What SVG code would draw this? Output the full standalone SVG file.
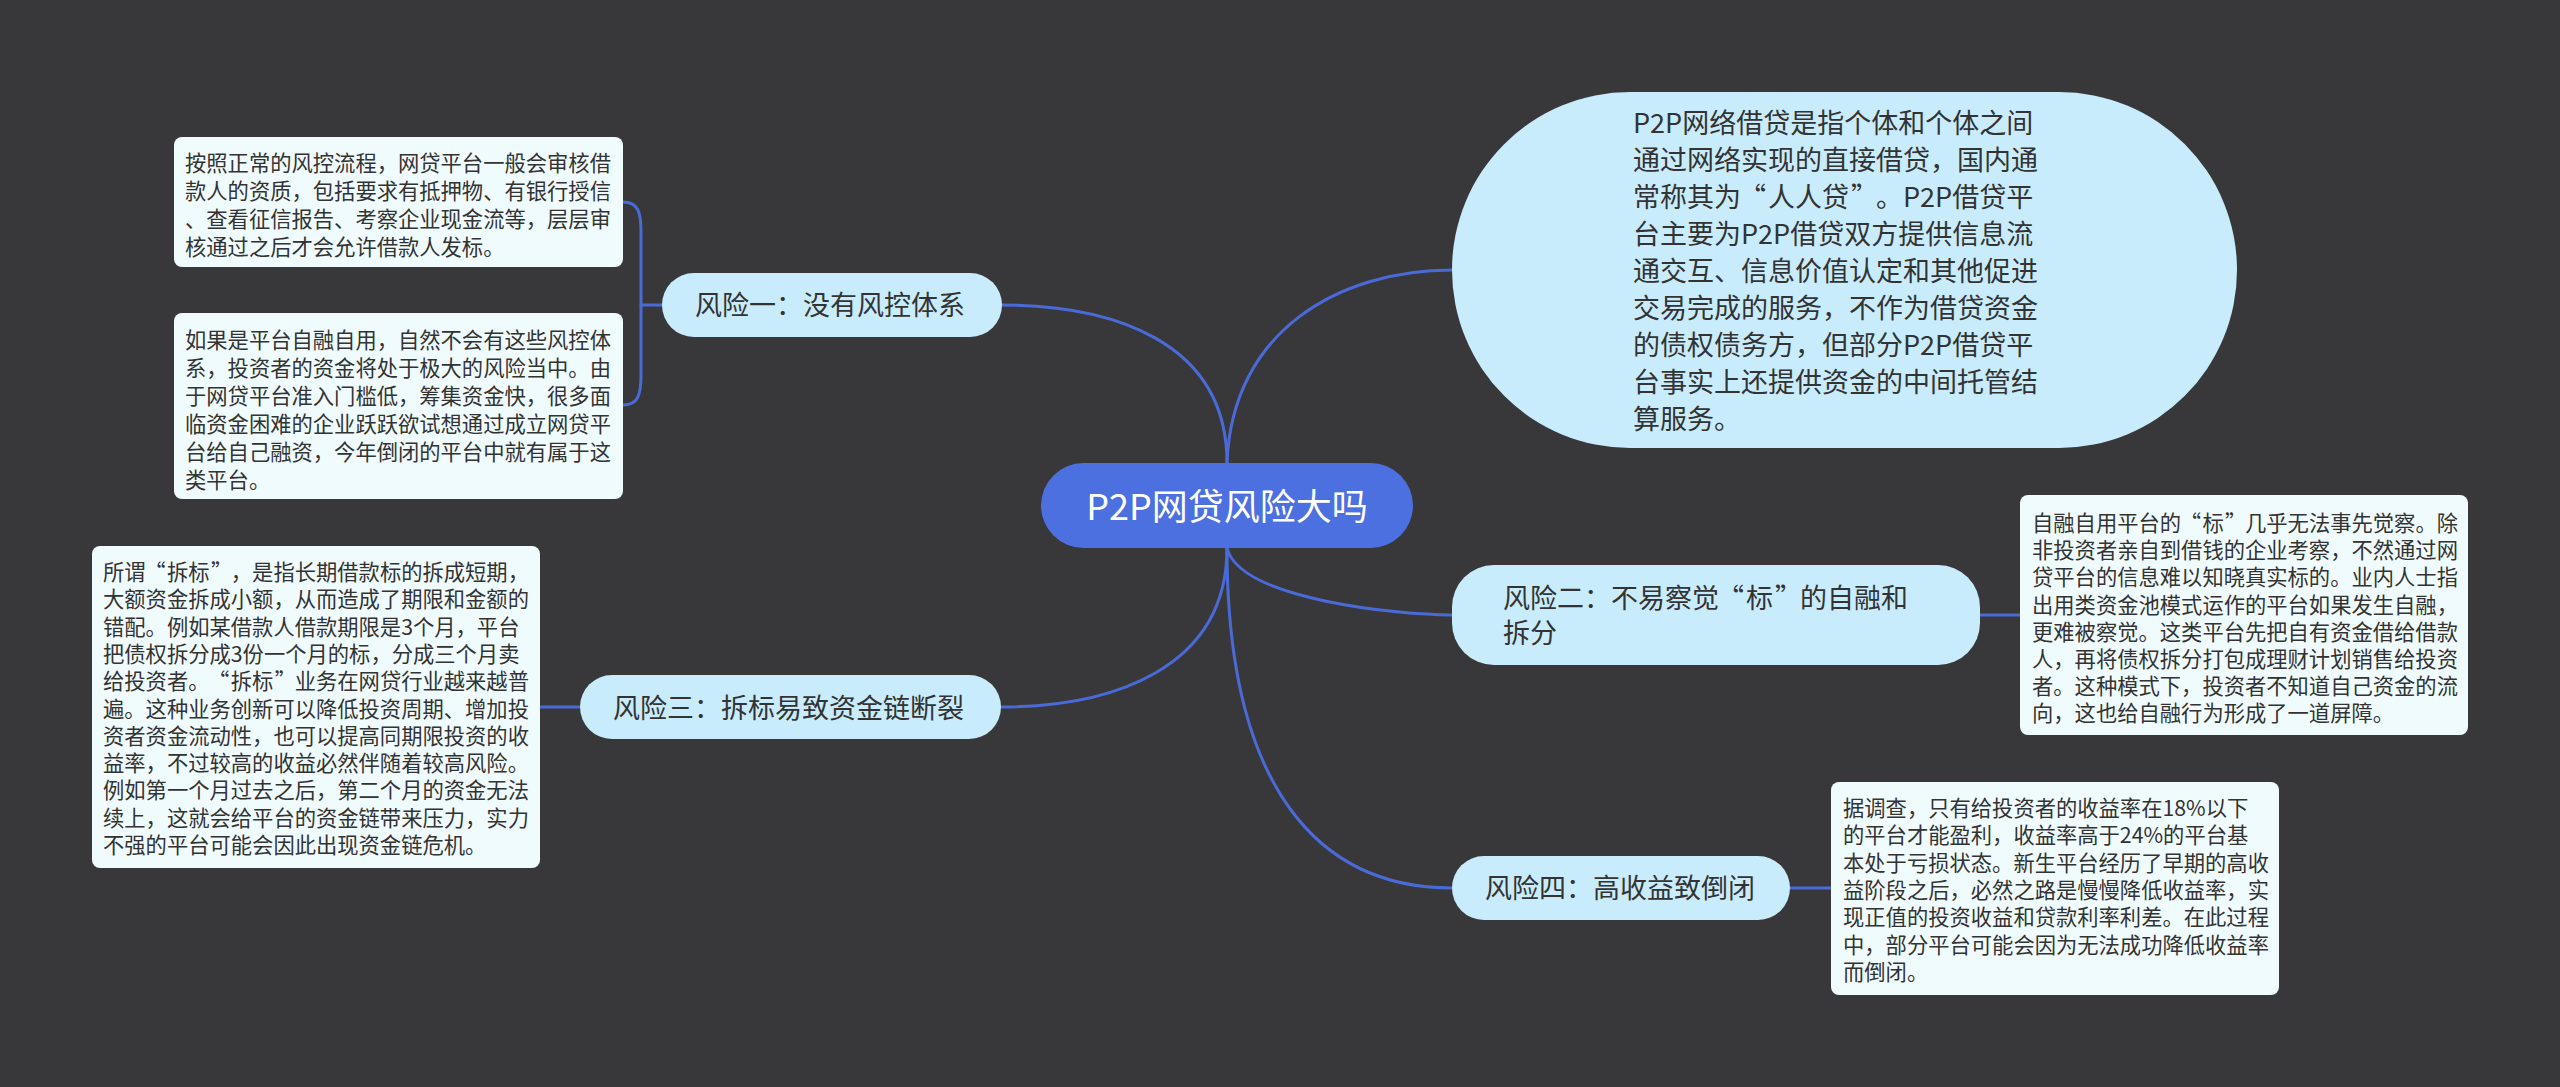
<svg xmlns="http://www.w3.org/2000/svg" width="2560" height="1087" viewBox="0 0 2560 1087">
<style>
.bg{fill:#38383a}
.conn{fill:none;stroke:#4a6ad8;stroke-width:3;stroke-linecap:round}
.root{fill:#4d70e0}
.topic{fill:#c9ecfc}
.note{fill:#f0fbfd}
.rt{font-family:"Noto Sans CJK SC","Noto Sans",sans-serif;font-size:36px;fill:#ffffff}
.tt{font-family:"Noto Sans CJK SC","Noto Sans",sans-serif;font-size:27px;fill:#333333}
.nt{font-family:"Noto Sans CJK SC","Noto Sans",sans-serif;font-size:21.3px;fill:#333333}
</style>
<rect class="bg" x="0" y="0" width="2560" height="1087"/>
<g id="connectors">
<path class="conn" d="M1227,463 C1232,330 1340,270 1452,270"/>
<path class="conn" d="M1227,463 C1227,340 1110,305 1002,305"/>
<path class="conn" d="M1227,548 C1227,670 1110,707 1001,707"/>
<path class="conn" d="M1227,548 C1240,600 1400,615 1452,615"/>
<path class="conn" d="M1227,548 C1227,790 1320,888 1452,888"/>
<path class="conn" d="M662,305 H641"/>
<path class="conn" d="M623,202 C638,202 641,212 641,232 L641,375 C641,395 638,405 623,405"/>
<path class="conn" d="M580,707 H540"/>
<path class="conn" d="M1980,615 H2020"/>
<path class="conn" d="M1790,888 H1831"/>
</g>
<g id="root">
<rect class="root" x="1041" y="463" width="372" height="85" rx="42.5"/>
<text class="rt" x="1227" y="520" text-anchor="middle">P2P网贷风险大吗</text>
</g>
<g id="intro">
<rect class="topic" x="1452" y="92" width="785" height="356" rx="178"/>
<text class="tt" x="1633">
<tspan x="1633" y="133">P2P网络借贷是指个体和个体之间</tspan>
<tspan x="1633" y="170">通过网络实现的直接借贷，国内通</tspan>
<tspan x="1633" y="207">常称其为</tspan><tspan x="1766" y="207" text-anchor="end">“</tspan><tspan x="1768" y="207">人人贷</tspan><tspan x="1851" y="207">”</tspan><tspan x="1876" y="207">。P2P借贷平</tspan>
<tspan x="1633" y="244">台主要为P2P借贷双方提供信息流</tspan>
<tspan x="1633" y="281">通交互、信息价值认定和其他促进</tspan>
<tspan x="1633" y="318">交易完成的服务，不作为借贷资金</tspan>
<tspan x="1633" y="355">的债权债务方，但部分P2P借贷平</tspan>
<tspan x="1633" y="392">台事实上还提供资金的中间托管结</tspan>
<tspan x="1633" y="429">算服务。</tspan>
</text>
</g>
<g id="risk1">
<rect class="topic" x="662" y="273" width="340" height="64" rx="32"/>
<text class="tt" x="695" y="315">风险一：没有风控体系</text>
</g>
<g id="risk1-note1">
<rect class="note" x="174" y="137" width="449" height="130" rx="8"/>
<text class="nt">
<tspan x="185" y="171">按照正常的风控流程，网贷平台一般会审核借</tspan>
<tspan x="185" y="199">款人的资质，包括要求有抵押物、有银行授信</tspan>
<tspan x="185" y="227">、查看征信报告、考察企业现金流等，层层审</tspan>
<tspan x="185" y="255">核通过之后才会允许借款人发标。</tspan>
</text>
</g>
<g id="risk1-note2">
<rect class="note" x="174" y="313" width="449" height="186" rx="8"/>
<text class="nt">
<tspan x="185" y="348">如果是平台自融自用，自然不会有这些风控体</tspan>
<tspan x="185" y="376">系，投资者的资金将处于极大的风险当中。由</tspan>
<tspan x="185" y="404">于网贷平台准入门槛低，筹集资金快，很多面</tspan>
<tspan x="185" y="432">临资金困难的企业跃跃欲试想通过成立网贷平</tspan>
<tspan x="185" y="460">台给自己融资，今年倒闭的平台中就有属于这</tspan>
<tspan x="185" y="488">类平台。</tspan>
</text>
</g>
<g id="risk3">
<rect class="topic" x="580" y="675" width="421" height="64" rx="32"/>
<text class="tt" x="613" y="718">风险三：拆标易致资金链断裂</text>
</g>
<g id="risk3-note">
<rect class="note" x="92" y="546" width="448" height="322" rx="8"/>
<text class="nt">
<tspan x="103" y="580">所谓</tspan><tspan x="165.5" y="580" text-anchor="end">“</tspan><tspan x="166.9" y="580">拆标</tspan><tspan x="211" y="580">”</tspan><tspan x="230.8" y="580">，是指长期借款标的拆成短期，</tspan>
<tspan x="103" y="607.3">大额资金拆成小额，从而造成了期限和金额的</tspan>
<tspan x="103" y="634.6">错配。例如某借款人借款期限是3个月，平台</tspan>
<tspan x="103" y="661.9">把债权拆分成3份一个月的标，分成三个月卖</tspan>
<tspan x="103" y="689.2">给投资者。</tspan><tspan x="229.4" y="689.2" text-anchor="end">“</tspan><tspan x="230.8" y="689.2">拆标</tspan><tspan x="274.8" y="689.2">”</tspan><tspan x="294.7" y="689.2">业务在网贷行业越来越普</tspan>
<tspan x="103" y="716.5">遍。这种业务创新可以降低投资周期、增加投</tspan>
<tspan x="103" y="743.8">资者资金流动性，也可以提高同期限投资的收</tspan>
<tspan x="103" y="771.1">益率，不过较高的收益必然伴随着较高风险。</tspan>
<tspan x="103" y="798.4">例如第一个月过去之后，第二个月的资金无法</tspan>
<tspan x="103" y="825.7">续上，这就会给平台的资金链带来压力，实力</tspan>
<tspan x="103" y="853">不强的平台可能会因此出现资金链危机。</tspan>
</text>
</g>
<g id="risk2">
<rect class="topic" x="1452" y="565" width="528" height="100" rx="42"/>
<text class="tt">
<tspan x="1503" y="608">风险二：不易察觉</tspan><tspan x="1744" y="608" text-anchor="end">“</tspan><tspan x="1746" y="608">标</tspan><tspan x="1775" y="608">”</tspan><tspan x="1800" y="608">的自融和</tspan>
<tspan x="1503" y="643">拆分</tspan>
</text>
</g>
<g id="risk2-note">
<rect class="note" x="2020" y="495" width="448" height="240" rx="8"/>
<text class="nt">
<tspan x="2032" y="531">自融自用平台的</tspan><tspan x="2201" y="531" text-anchor="end">“</tspan><tspan x="2202.4" y="531">标</tspan><tspan x="2225" y="531">”</tspan><tspan x="2245" y="531">几乎无法事先觉察。除</tspan>
<tspan x="2032" y="558.2">非投资者亲自到借钱的企业考察，不然通过网</tspan>
<tspan x="2032" y="585.4">贷平台的信息难以知晓真实标的。业内人士指</tspan>
<tspan x="2032" y="612.6">出用类资金池模式运作的平台如果发生自融，</tspan>
<tspan x="2032" y="639.8">更难被察觉。这类平台先把自有资金借给借款</tspan>
<tspan x="2032" y="667">人，再将债权拆分打包成理财计划销售给投资</tspan>
<tspan x="2032" y="694.2">者。这种模式下，投资者不知道自己资金的流</tspan>
<tspan x="2032" y="721.4">向，这也给自融行为形成了一道屏障。</tspan>
</text>
</g>
<g id="risk4">
<rect class="topic" x="1452" y="856" width="338" height="64" rx="32"/>
<text class="tt" x="1485" y="898">风险四：高收益致倒闭</text>
</g>
<g id="risk4-note">
<rect class="note" x="1831" y="782" width="448" height="213" rx="8"/>
<text class="nt">
<tspan x="1843" y="816">据调查，只有给投资者的收益率在18%以下</tspan>
<tspan x="1843" y="843.3">的平台才能盈利，收益率高于24%的平台基</tspan>
<tspan x="1843" y="870.6">本处于亏损状态。新生平台经历了早期的高收</tspan>
<tspan x="1843" y="897.9">益阶段之后，必然之路是慢慢降低收益率，实</tspan>
<tspan x="1843" y="925.2">现正值的投资收益和贷款利率利差。在此过程</tspan>
<tspan x="1843" y="952.5">中，部分平台可能会因为无法成功降低收益率</tspan>
<tspan x="1843" y="979.8">而倒闭。</tspan>
</text>
</g>
</svg>
